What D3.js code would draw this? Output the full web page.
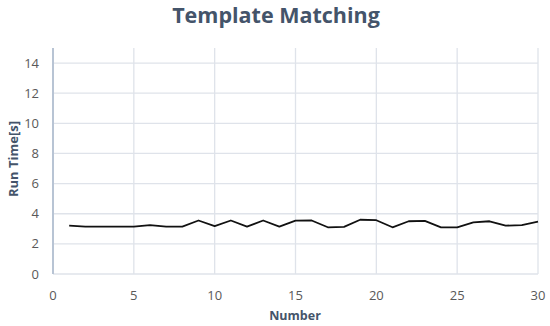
<!DOCTYPE html>
<html>
<head>
<meta charset="utf-8">
<script src="https://cdn.jsdelivr.net/npm/d3@7"></script>
<style>
  body { margin: 0; background: #fff; }
  svg { display: block; font-family: "Open Sans", sans-serif; }
</style>
</head>
<body>
<div class="main"></div>
<script>
////Data
const numbers = d3.range(1, 31);
const runTimes = [3.21, 3.15, 3.15, 3.15, 3.15, 3.24, 3.15, 3.15, 3.55, 3.18,
  3.55, 3.15, 3.55, 3.15, 3.54, 3.55, 3.1, 3.13, 3.6, 3.57,
  3.1, 3.5, 3.53, 3.1, 3.1, 3.42, 3.5, 3.21, 3.24, 3.47];
const xTicks = [0, 5, 10, 15, 20, 25, 30];
const yTicks = [0, 2, 4, 6, 8, 10, 12, 14];

////Globals
const width = 550;
const height = 326;
const plotLeft = 53, plotRight = 538, plotTop = 48, plotBottom = 274;
const gridColor = '#dfe3ea';
const titleColor = '#44546a';
const tickColor = '#595959';

const svg = d3.select('.main').append('svg')
  .attr('width', width)
  .attr('height', height);

const x = d3.scaleLinear().domain([0, 30]).range([plotLeft, plotRight]);
const y = d3.scaleLinear().domain([0, 15]).range([plotBottom, plotTop]);

// grid
svg.append('g')
  .selectAll('line')
  .data(xTicks.slice(1))
  .enter()
  .append('line')
  .attr('x1', d => x(d)).attr('x2', d => x(d))
  .attr('y1', plotTop).attr('y2', plotBottom)
  .attr('stroke', gridColor).attr('stroke-width', 1.3);

svg.append('g')
  .selectAll('line')
  .data(yTicks)
  .enter()
  .append('line')
  .attr('x1', plotLeft).attr('x2', plotRight)
  .attr('y1', d => y(d)).attr('y2', d => y(d))
  .attr('stroke', gridColor).attr('stroke-width', 1.3);

// left axis line
svg.append('line')
  .attr('x1', plotLeft).attr('x2', plotLeft)
  .attr('y1', plotTop).attr('y2', plotBottom)
  .attr('stroke', '#b8c4d4').attr('stroke-width', 2);

// tick labels
svg.append('g')
  .selectAll('text')
  .data(yTicks)
  .enter()
  .append('text')
  .attr('x', 39)
  .attr('y', d => y(d))
  .attr('dy', '0.35em')
  .attr('text-anchor', 'end')
  .attr('font-size', 13)
  .attr('fill', tickColor)
  .text(d => d);

svg.append('g')
  .selectAll('text')
  .data(xTicks)
  .enter()
  .append('text')
  .attr('x', d => x(d))
  .attr('y', 295)
  .attr('dy', '0.35em')
  .attr('text-anchor', 'middle')
  .attr('font-size', 13)
  .attr('fill', tickColor)
  .text(d => d);

// line
const line = d3.line()
  .x((d, i) => x(numbers[i]))
  .y(d => y(d));

svg.append('path')
  .datum(runTimes)
  .attr('d', line)
  .attr('fill', 'none')
  .attr('stroke', '#111')
  .attr('stroke-width', 1.8)
  .attr('stroke-linejoin', 'round');

// titles
svg.append('text')
  .attr('x', 276)
  .attr('y', 23)
  .attr('text-anchor', 'middle')
  .attr('font-size', 21.5)
  .attr('font-weight', 'bold')
  .attr('fill', titleColor)
  .text('Template Matching');

svg.append('text')
  .attr('x', 295)
  .attr('y', 316)
  .attr('dy', '0.35em')
  .attr('text-anchor', 'middle')
  .attr('font-size', 12.5)
  .attr('font-weight', 'bold')
  .attr('fill', titleColor)
  .text('Number');

svg.append('text')
  .attr('transform', 'translate(13,159) rotate(-90)')
  .attr('dy', '0.35em')
  .attr('text-anchor', 'middle')
  .attr('font-size', 13)
  .attr('font-weight', 'bold')
  .attr('fill', titleColor)
  .text('Run Time[s]');
</script>
</body>
</html>
